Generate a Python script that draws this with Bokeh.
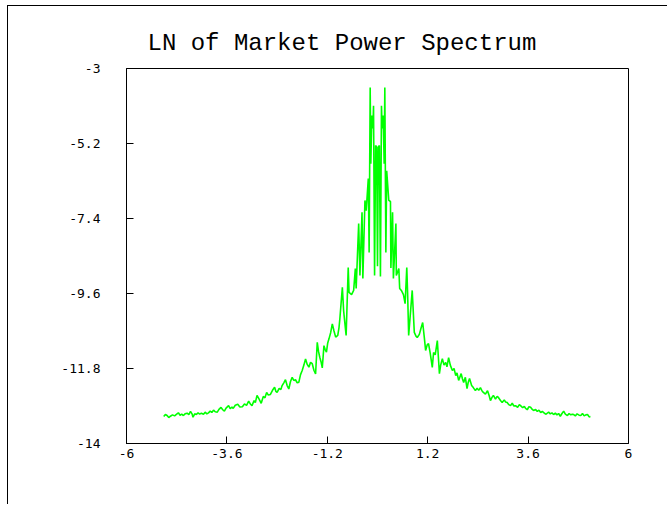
from bokeh.plotting import figure
from bokeh.models import FixedTicker, Range1d
from bokeh.embed import file_html
from bokeh.resources import INLINE

title_text = "LN of Market Power Spectrum"

x_ticks = [-6, -3.6, -1.2, 1.2, 3.6, 6]
x_tick_labels = ["-6", "-3.6", "-1.2", "1.2", "3.6", "6"]
y_ticks = [-3, -5.2, -7.4, -9.6, -11.8, -14]
y_tick_labels = ["-3", "-5.2", "-7.4", "-9.6", "-11.8", "-14"]

freq = [
    -5.11, -5.07, -5.03, -4.99, -4.95, -4.90, -4.85, -4.80, -4.76, -4.72,
    -4.68, -4.64, -4.60, -4.55, -4.51, -4.47, -4.43, -4.41, -4.37, -4.33,
    -4.29, -4.25, -4.21, -4.16, -4.12, -4.08, -4.04, -4.00, -3.96, -3.92,
    -3.88, -3.83, -3.79, -3.74, -3.70, -3.66, -3.62, -3.56, -3.52, -3.48,
    -3.45, -3.40, -3.34, -3.29, -3.23, -3.18, -3.13, -3.08, -3.04, -3.00,
    -2.95, -2.92, -2.88, -2.83, -2.78, -2.73, -2.69, -2.65, -2.61, -2.56,
    -2.51, -2.46, -2.43, -2.40, -2.35, -2.31, -2.28, -2.24, -2.20, -2.16,
    -2.12, -2.08, -2.04, -2.00, -1.96, -1.92, -1.88, -1.84, -1.80, -1.76,
    -1.72, -1.68, -1.64, -1.60, -1.56, -1.52, -1.48, -1.44, -1.41, -1.38,
    -1.35, -1.32, -1.28, -1.25, -1.22, -1.19, -1.16, -1.12, -1.08, -1.04,
    -1.00, -0.95, -0.92, -0.90, -0.84, -0.81, -0.75, -0.70, -0.68,
    -0.62, -0.57, -0.53, -0.51, -0.45, -0.42, -0.37, -0.35, -0.30, -0.27,
    -0.22, -0.20, -0.175, -0.16, -0.135, -0.11, -0.095, -0.07, -0.045, -0.02,
    0.00, 0.02, 0.045, 0.07, 0.095, 0.11, 0.135, 0.16, 0.175, 0.20,
    0.22, 0.27, 0.31, 0.32, 0.36, 0.38, 0.44, 0.45, 0.51, 0.53,
    0.57, 0.62, 0.66, 0.70, 0.72, 0.745, 0.83, 0.88, 0.92, 0.95,
    1.00, 1.04, 1.08, 1.12, 1.15, 1.19, 1.22, 1.26, 1.31, 1.34,
    1.38, 1.43, 1.48, 1.51, 1.55, 1.59, 1.63, 1.66, 1.70, 1.74,
    1.79, 1.83, 1.87, 1.90, 1.94, 1.97, 2.00, 2.03, 2.06, 2.10,
    2.14, 2.17, 2.20, 2.25, 2.29, 2.34, 2.38, 2.42, 2.46, 2.50,
    2.53, 2.58, 2.63, 2.67, 2.70, 2.74, 2.77, 2.82, 2.86, 2.89,
    2.94, 2.98, 3.03, 3.06, 3.10, 3.14, 3.18, 3.22, 3.26, 3.30,
    3.35, 3.39, 3.42, 3.47, 3.51, 3.54, 3.58, 3.62, 3.66, 3.70,
    3.73, 3.78, 3.82, 3.86, 3.90, 3.94, 3.98, 4.02, 4.05, 4.09,
    4.13, 4.17, 4.21, 4.25, 4.29, 4.33, 4.37, 4.41, 4.45, 4.49,
    4.54, 4.58, 4.62, 4.66, 4.69, 4.73, 4.77, 4.82, 4.86, 4.90,
    4.94, 4.98, 5.02, 5.06, 5.09,
]

ln_power = [
    -13.21, -13.15, -13.18, -13.24, -13.20, -13.16, -13.19, -13.14, -13.10, -13.17,
    -13.14, -13.18, -13.13, -13.11, -13.15, -13.06, -13.14, -13.23, -13.13, -13.15,
    -13.10, -13.14, -13.11, -13.14, -13.08, -13.13, -13.10, -13.05, -13.09, -13.02,
    -13.07, -13.08, -13.00, -12.94, -13.01, -13.05, -12.96, -12.89, -12.98, -12.93,
    -12.97, -12.88, -12.85, -12.93, -12.92, -12.84, -12.88, -12.76, -12.84, -12.89,
    -12.74, -12.80, -12.59, -12.70, -12.82, -12.62, -12.66, -12.50, -12.58, -12.56,
    -12.44, -12.35, -12.47, -12.50, -12.38, -12.42, -12.30, -12.22, -12.13, -12.30,
    -12.40, -12.18, -12.06, -12.15, -12.13, -12.22, -12.20, -11.98, -11.86, -11.70,
    -11.52, -11.68, -11.76, -11.62, -11.66, -11.85, -11.96, -11.03, -11.30, -11.47,
    -11.60, -11.78, -11.13, -11.25, -11.32, -11.05, -10.93, -10.75, -10.49, -10.70,
    -10.88, -10.83, -10.60, -10.34, -9.42, -10.10, -10.83, -8.84, -9.57,
    -9.63, -9.51, -8.87, -9.45, -7.55, -9.07, -7.22, -9.16, -6.87, -7.17,
    -6.23, -8.40, -3.56, -5.79, -4.38, -4.76, -4.09, -9.07, -5.26, -5.30,
    -8.80, -5.30, -5.26, -9.10, -4.09, -4.76, -4.38, -5.79, -3.56, -8.40,
    -6.00, -6.87, -6.90, -8.85, -7.22, -9.16, -7.55, -9.07, -8.87, -9.45,
    -9.51, -9.63, -9.90, -8.84, -9.60, -10.83, -9.51, -10.74, -10.85, -10.89,
    -10.80, -10.62, -10.45, -10.90, -11.27, -11.10, -11.07, -11.35, -11.77, -11.33,
    -11.40, -10.98, -11.95, -11.70, -11.51, -11.70, -11.62, -11.75, -11.48, -11.70,
    -11.86, -11.80, -12.01, -11.93, -12.15, -12.05, -11.95, -12.10, -12.21, -12.06,
    -12.39, -12.20, -12.09, -12.30, -12.36, -12.45, -12.38, -12.44, -12.36, -12.46,
    -12.50, -12.55, -12.45, -12.60, -12.74, -12.64, -12.59, -12.70, -12.62, -12.65,
    -12.74, -12.80, -12.72, -12.78, -12.80, -12.86, -12.89, -12.82, -12.90, -12.89,
    -12.94, -12.86, -12.89, -12.95, -12.91, -12.97, -13.01, -12.92, -12.94, -13.00,
    -13.03, -13.00, -13.06, -13.02, -13.09, -13.06, -13.10, -13.14, -13.12, -13.08,
    -13.13, -13.10, -13.15, -13.11, -13.16, -13.12, -13.20, -13.12, -13.05, -13.14,
    -13.18, -13.12, -13.16, -13.14, -13.15, -13.19, -13.13, -13.17, -13.18, -13.12,
    -13.19, -13.16, -13.15, -13.22, -13.21,
]

# the chart canvas is offset inside an outer window frame drawn with CSS borders
p = figure(
    width=660, height=499,
    x_range=Range1d(-6, 6), y_range=Range1d(-14, -3),
    output_backend="svg", toolbar_location=None, tools="",
    min_border_left=118, min_border_right=40,
    min_border_top=62, min_border_bottom=62,
    title=title_text,
    styles={"margin-left": "7px", "margin-top": "5px",
            "border-left": "1px solid black", "border-top": "1px solid black"},
)
p.background_fill_color = "white"
p.border_fill_color = "white"
p.outline_line_color = "black"
p.outline_line_width = 1
p.grid.visible = False

p.title.text_font = "Liberation Mono"
p.title.text_font_size = "24px"
p.title.text_font_style = "normal"
p.title.text_color = "black"
p.title.align = "left"
p.title.offset = 21
p.title.standoff = 23

for ax in (p.xaxis[0], p.yaxis[0]):
    ax.major_tick_in = 7
    ax.major_tick_out = 0
    ax.minor_tick_line_color = None
    ax.axis_line_color = "black"
    ax.major_tick_line_color = "black"
    ax.major_label_text_font = "DejaVu Sans Mono"
    ax.major_label_text_font_size = "13px"
    ax.major_label_text_color = "black"

p.xaxis[0].ticker = FixedTicker(ticks=x_ticks)
p.xaxis[0].major_label_overrides = {t: lab for t, lab in zip(x_ticks, x_tick_labels)}
p.xaxis[0].major_label_standoff = 5

p.yaxis[0].ticker = FixedTicker(ticks=y_ticks)
p.yaxis[0].major_label_overrides = {t: lab for t, lab in zip(y_ticks, y_tick_labels)}
p.yaxis[0].major_label_standoff = 26

p.line(freq, ln_power, line_color="#00ff00", line_width=1.6)

open("out.html", "w").write(file_html(p, INLINE))
